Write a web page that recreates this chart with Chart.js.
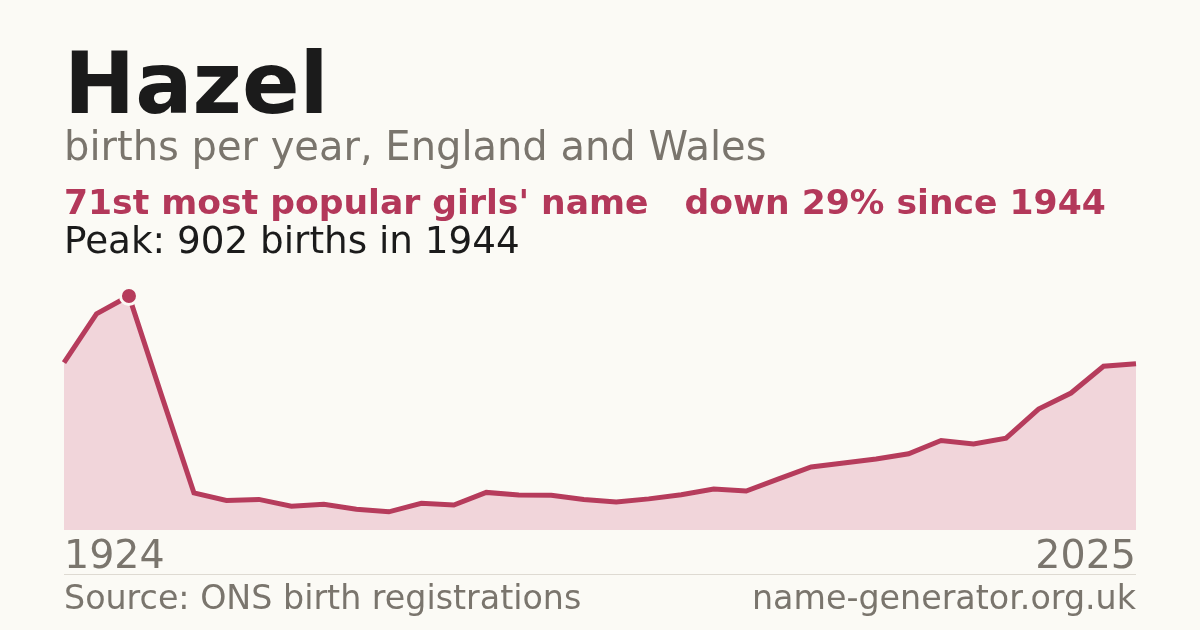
<!DOCTYPE html>
<html><head><meta charset="utf-8">
<script src="https://cdn.jsdelivr.net/npm/chart.js@4.4.1/dist/chart.umd.min.js"></script>
<style>
html,body{margin:0;padding:0;background:#fbfaf5;}
#wrap{position:relative;width:1200px;height:630px;overflow:hidden;font-family:"DejaVu Sans",sans-serif;}
.t{position:absolute;left:64px;white-space:nowrap;line-height:1;}
#title{top:41px;font-size:85px;font-weight:bold;color:#1b1b1b;}
#sub{top:126px;font-size:40px;color:#7a756d;}
#stat{top:185px;font-size:34.6px;font-weight:bold;color:#b3385a;}
#peak{top:222px;font-size:37.3px;color:#1b1b1b;}
#rule{position:absolute;left:64px;width:1072px;top:574px;height:1px;background:#dedad2;}
.foot{top:581px;font-size:33.3px;color:#7a756d;}
#credit{left:auto;right:64px;}
#chartbox{position:absolute;left:0;top:0;width:1200px;height:630px;}
</style></head>
<body><div id="wrap">
<div id="chartbox"><canvas id="c" width="1200" height="630"></canvas></div>
<div class="t" id="title">Hazel</div>
<div class="t" id="sub">births per year, England and Wales</div>
<div class="t" id="stat">71st most popular girls' name&nbsp;&nbsp;&nbsp;down 29% since 1944</div>
<div class="t" id="peak">Peak: 902 births in 1944</div>
<div id="rule"></div>
<div class="t foot" id="source">Source: ONS birth registrations</div>
<div class="t foot" id="credit">name-generator.org.uk</div>
</div>
<script>
const years = [1924,1934,1944,1954,1964,1974,1984,1994,
  2000,2001,2002,2003,2004,2005,2006,2007,2008,2009,2010,2011,2012,2013,
  2014,2015,2016,2017,2018,2019,2020,2021,2022,2023,2024,2025];
const births = [645,833,902,520,143,114,118,92,99,80,70,103,96,145,135,134,
  118,108,120,136,158,150,197,243,258,274,294,345,332,354,466,528,631,641];
const peakYear = 1944;
const peakIndex = years.indexOf(peakYear);
const lineColor = '#b63c5c';
const fillColor = '#f1d5da';

new Chart(document.getElementById('c'), {
  type: 'line',
  data: {
    labels: years,
    datasets: [{
      data: births,
      borderColor: lineColor,
      backgroundColor: fillColor,
      fill: 'origin',
      borderWidth: 5,
      tension: 0,
      pointRadius: c => c.dataIndex === peakIndex ? 8.5 : 0,
      pointBackgroundColor: lineColor,
      pointBorderColor: '#fbfaf5',
      pointBorderWidth: 3,
      pointHoverRadius: 0
    }]
  },
  options: {
    responsive: false,
    maintainAspectRatio: false,
    animation: false,
    devicePixelRatio: 1,
    layout: {padding: {left: 64, right: 64, top: 296, bottom: 50}},
    plugins: {legend: {display: false}, tooltip: {enabled: false}},
    clip: false,
    scales: {
      y: {display: false, min: 0, max: 902},
      x: {
        offset: false,
        grid: {display: false},
        border: {display: false},
        afterFit: s => { s.height = 50; },
        ticks: {
          autoSkip: false,
          maxRotation: 0,
          align: 'inner',
          padding: -4,
          color: '#7a756d',
          font: {family: 'DejaVu Sans', size: 39.6},
          callback: (v, i) => (i === 0 || i === years.length - 1) ? String(years[i]) : ''
        }
      }
    }
  }
});
</script>
</body></html>
